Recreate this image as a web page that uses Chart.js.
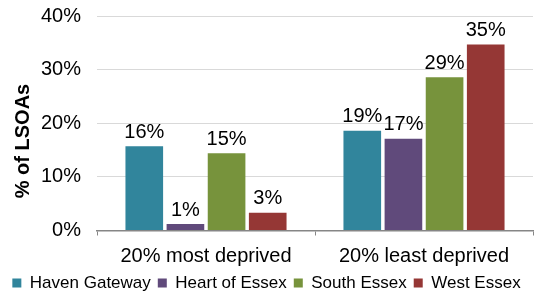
<!DOCTYPE html>
<html>
<head>
<meta charset="utf-8">
<script src="https://cdn.jsdelivr.net/npm/chart.js@4/dist/chart.umd.min.js"></script>
<style>
html,body{margin:0;padding:0;background:#fff;}
#wrap{width:536px;height:291px;position:relative;}
</style>
</head>
<body>
<div id="wrap"><canvas id="c" width="536" height="291"></canvas></div>
<script>
const categories = ["20% most deprived", "20% least deprived"];
const seriesNames = ["Haven Gateway", "Heart of Essex", "South Essex", "West Essex"];
const havenGateway = [15.7, 18.6];
const heartOfEssex = [1.2, 17.1];
const southEssex = [14.4, 28.6];
const westEssex = [3.3, 34.7];
const dataLabels = [["16%", "19%"], ["1%", "17%"], ["15%", "29%"], ["3%", "35%"]];
const yTicks = [0, 10, 20, 30, 40];
const yTitle = "% of LSOAs";

const colors = ["#31859C", "#604A7B", "#77933C", "#953735"];
const FONT = "'Liberation Sans', Arial, sans-serif";
const allSeries = [havenGateway, heartOfEssex, southEssex, westEssex];

const labelPlugin = {
  id: 'valueLabels',
  afterDatasetsDraw(chart) {
    const ctx = chart.ctx;
    ctx.save();
    ctx.font = "20px " + FONT;
    ctx.fillStyle = "#000";
    ctx.textAlign = "center";
    ctx.textBaseline = "alphabetic";
    chart.data.datasets.forEach((ds, i) => {
      chart.getDatasetMeta(i).data.forEach((bar, j) => {
        ctx.fillText(dataLabels[i][j], bar.x, bar.y - 8.5);
      });
    });
    ctx.restore();
  }
};

const yTitlePlugin = {
  id: 'yTitle',
  afterDraw(chart) {
    const ctx = chart.ctx;
    ctx.save();
    ctx.font = "bold 20px " + FONT;
    ctx.fillStyle = "#000";
    ctx.textAlign = "center";
    ctx.textBaseline = "middle";
    ctx.translate(23, 141);
    ctx.rotate(-Math.PI / 2);
    ctx.fillText(yTitle, 0, 0);
    ctx.restore();
  }
};

new Chart(document.getElementById('c'), {
  type: 'bar',
  data: {
    labels: categories,
    datasets: allSeries.map((s, i) => ({
      label: seriesNames[i],
      data: s,
      backgroundColor: colors[i],
      borderWidth: 0,
      categoryPercentage: 0.755,
      barPercentage: 0.915
    }))
  },
  options: {
    responsive: false,
    animation: false,
    devicePixelRatio: 1,
    layout: { padding: { left: 0, right: 3, top: 16, bottom: -10.5 } },
    plugins: {
      tooltip: { enabled: false },
      legend: {
        position: 'bottom',
        labels: {
          boxWidth: 9,
          boxHeight: 9,
          padding: 7,
          color: '#000',
          font: { family: FONT, size: 17 }
        }
      }
    },
    scales: {
      x: {
        offset: true,
        grid: {
          display: true,
          offset: true,
          drawOnChartArea: false,
          drawTicks: true,
          tickLength: 5,
          color: '#868686',
          lineWidth: 1
        },
        border: { display: true, color: '#868686', width: 1.5 },
        ticks: { color: '#000', font: { family: FONT, size: 20 }, padding: 9, maxRotation: 0 },
        afterFit(scale) { scale.height = 37; scale.paddingLeft = 0; scale.paddingRight = 0; }
      },
      y: {
        min: 0,
        max: 40,
        afterBuildTicks(scale) { scale.ticks = yTicks.map(v => ({ value: v })); },
        grid: { color: '#d9d9d9', lineWidth: 1, drawTicks: false },
        border: { display: false },
        ticks: {
          color: '#000',
          font: { family: FONT, size: 20 },
          padding: 16,
          callback: v => v + '%'
        },
        afterFit(scale) { scale.width = 97; scale.paddingTop = 0; scale.paddingBottom = 0; }
      }
    }
  },
  plugins: [labelPlugin, yTitlePlugin]
});
</script>
</body>
</html>
